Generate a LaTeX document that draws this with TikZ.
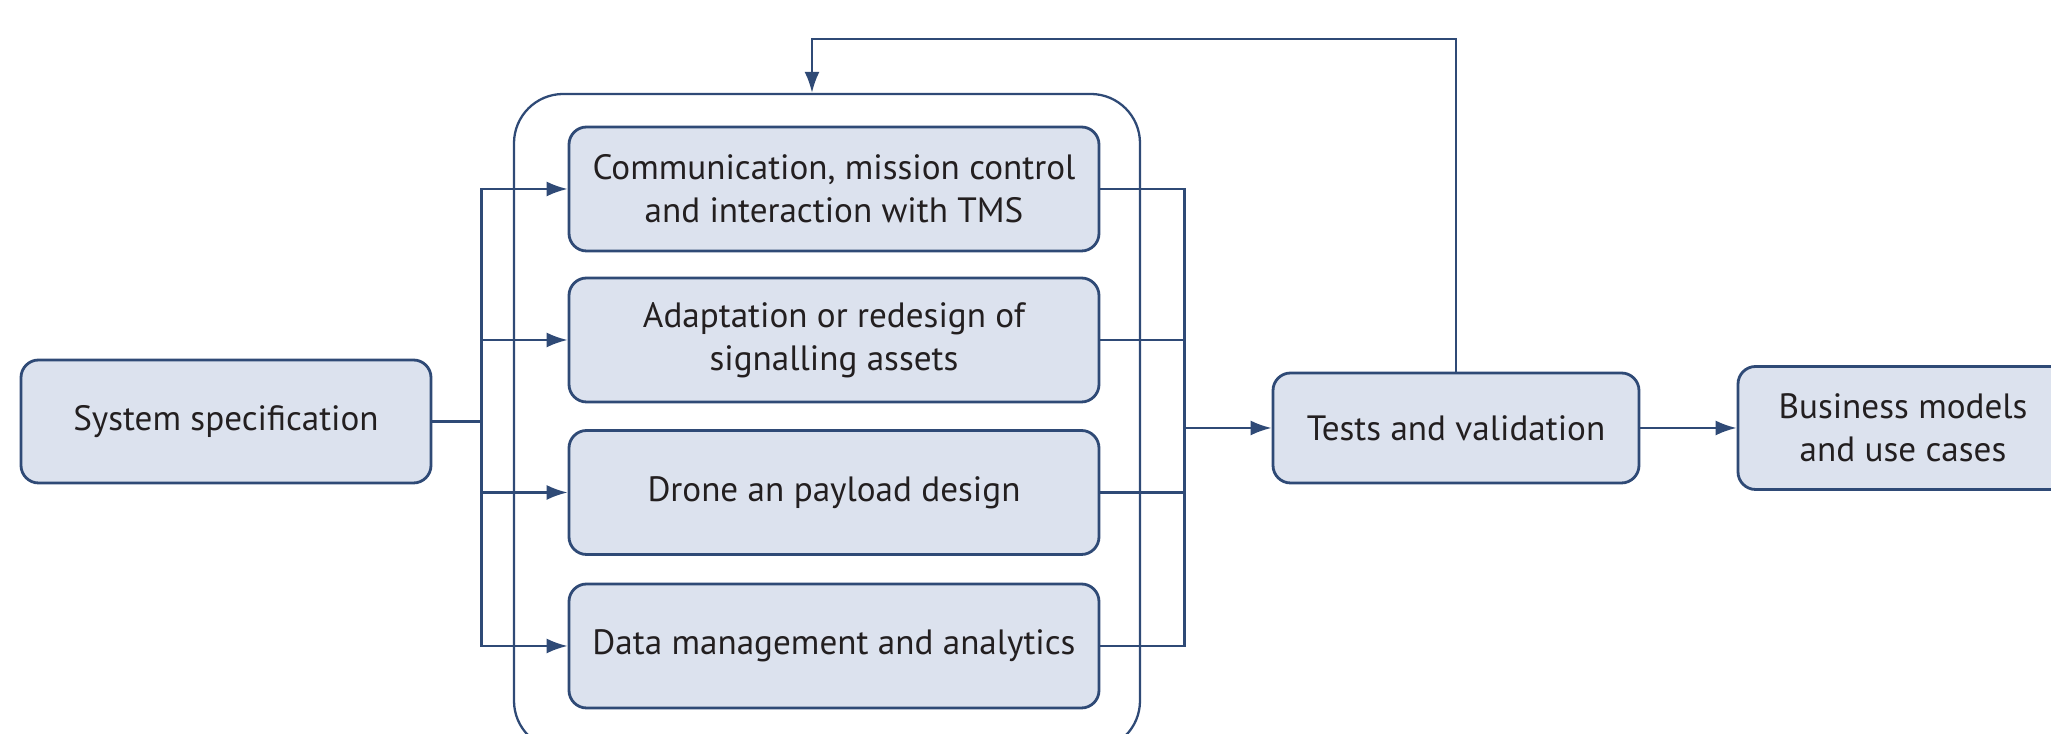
\documentclass[tikz,border=0pt]{standalone}
\usepackage{fontspec}
\setmainfont{PT Sans}
\usetikzlibrary{arrows.meta}
\definecolor{boxfill}{HTML}{DCE2EE}
\definecolor{boxline}{HTML}{2F4A76}
\definecolor{txtdark}{HTML}{231F20}

\tikzset{
  stage/.style={rounded corners=5pt, fill=boxfill, draw=boxline, line width=0.8pt,
    text=txtdark, align=center, font=\fontsize{10}{12.2}\selectfont},
  link/.style={draw=boxline, line width=0.65pt},
  flow/.style={link, -{Latex[length=2.1mm,width=1.5mm]}}
}

\begin{document}
\begin{tikzpicture}
  \useasboundingbox (0,0) rectangle (20.51,7.34);

  % ══ GROUP FRAME ═══════════════════════════════════════════════
  \node[draw=boxline, line width=0.65pt, rounded corners=14pt,
        minimum width=6.26cm, minimum height=6.56cm] (group) at (8.27, 3.12) {};

  % ══ MAIN NODES ════════════════════════════════════════════════
  \node[stage, minimum width=4.10cm, minimum height=1.23cm] (spec) at (2.26, 3.125)
    {System specification};

  \node[stage, minimum width=5.30cm, minimum height=1.24cm] (comm) at (8.34, 5.45)
    {Communication, mission control\\and interaction with TMS};
  \node[stage, minimum width=5.30cm, minimum height=1.24cm] (assets) at (8.34, 3.94)
    {Adaptation or redesign of\\signalling assets};
  \node[stage, minimum width=5.30cm, minimum height=1.24cm] (drone) at (8.34, 2.415)
    {Drone an payload design};
  \node[stage, minimum width=5.30cm, minimum height=1.24cm] (data) at (8.34, 0.88)
    {Data management and analytics};

  \node[stage, minimum width=3.66cm, minimum height=1.10cm] (tests) at (14.56, 3.06)
    {Tests and validation};
  \node[stage, minimum width=3.30cm, minimum height=1.23cm] (biz) at (19.03, 3.06)
    {Business models\\and use cases};

  % ══ ARROWS ════════════════════════════════════════════════════
  \coordinate (split) at (spec.east -| 4.815,0);
  \coordinate (merge) at (tests.west -| 11.845,0);
  \coordinate (loop) at (8.12, 6.95);

  \draw[link] (spec.east) -- (split);
  \foreach \n in {comm, assets, drone, data}
    \draw[flow] (split) |- (\n.west);
  \foreach \n in {comm, assets, drone, data}
    \draw[link] (\n.east) -| (merge);
  \draw[flow] (merge) -- (tests.west);
  \draw[flow] (tests.east) -- (biz.west);
  \draw[flow] (tests.north) |- (loop) -- (loop |- group.north);

\end{tikzpicture}
\end{document}
